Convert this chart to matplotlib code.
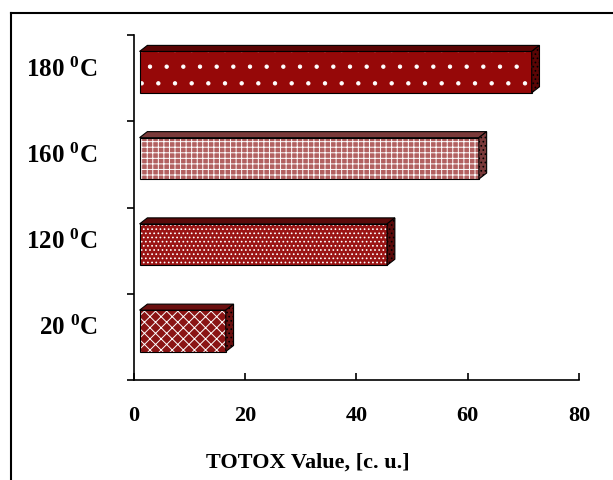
import matplotlib.pyplot as plt
from matplotlib.patches import Polygon
from matplotlib.lines import Line2D

# data
labels = ['20 $^{0}$C', '120 $^{0}$C', '160 $^{0}$C', '180 $^{0}$C']
values = [16.5, 45.5, 62, 71.5]
face_colors = ['#8a1414', '#9a1414', '#b26060', '#960808']
hatches = ['xxx', '....', '+++', '.']
top_colors = ['#6a1010', '#5a0a0a', '#7a3a3a', '#5a0505']

plt.rcParams['font.family'] = ['Liberation Serif', 'DejaVu Serif']
plt.rcParams['font.weight'] = 'bold'
plt.rcParams['mathtext.fontset'] = 'custom'
plt.rcParams['mathtext.rm'] = 'Liberation Serif:bold'
plt.rcParams['mathtext.it'] = 'Liberation Serif:bold'
plt.rcParams['hatch.linewidth'] = 0.7

fig = plt.figure(figsize=(6.13, 4.8), dpi=100)
ax = fig.add_axes([0.2186, 0.2083, 0.7259, 0.7187])

h = 0.48      # bar thickness (category units)
shift = 0.07  # bars sit a little above the category centre
dx, dy = 1.4, 0.07  # 3-D depth offset
x0 = 1.0

for i, v in enumerate(values):
    yc = i + shift
    lo, hi = yc - h / 2, yc + h / 2
    # front face with white pattern
    ax.barh(yc, v - x0, left=x0, height=h, color=face_colors[i],
            hatch=hatches[i], edgecolor='white', linewidth=0, zorder=2)
    ax.barh(yc, v - x0, left=x0, height=h, facecolor='none',
            edgecolor='black', linewidth=0.8, zorder=3)
    # top face
    top = Polygon([(x0, hi), (v, hi), (v + dx, hi + dy), (x0 + dx, hi + dy)],
                  closed=True, facecolor=top_colors[i], edgecolor='black',
                  linewidth=0.8, zorder=3)
    ax.add_patch(top)
    # right side face
    side = Polygon([(v, lo), (v, hi), (v + dx, hi + dy), (v + dx, lo + dy)],
                   closed=True, facecolor=top_colors[i], edgecolor='black',
                   linewidth=0.8, hatch='....', zorder=3)
    ax.add_patch(side)

ax.set_xlim(0, 80)
ax.set_ylim(-0.5, 3.5)
ax.set_xticks([0, 20, 40, 60, 80])
ax.set_xticklabels(['0', '20', '40', '60', '80'], fontsize=16)
ax.tick_params(axis='x', direction='in', length=5, width=1.2, pad=19)

ax.set_yticks([-0.5, 0.5, 1.5, 2.5, 3.5])
ax.set_yticklabels([])
ax.tick_params(axis='y', direction='out', length=5, width=1.2)
for i, lab in enumerate(labels):
    ax.text(-6.5, i + 0.1, lab, ha='right', va='center', fontsize=18,
            fontweight='bold', transform=ax.transData, clip_on=False)

for s in ['top', 'right']:
    ax.spines[s].set_visible(False)
for s in ['left', 'bottom']:
    ax.spines[s].set_linewidth(1.2)

ax.set_xlabel('TOTOX Value, [c. u.]', fontsize=16, fontweight='bold')
ax.xaxis.set_label_coords(0.39, -0.21)

# outer frame (left and top edges)
fig.add_artist(Line2D([11 / 613, 11 / 613], [0, 1 - 13 / 480],
                      color='black', linewidth=1.5, transform=fig.transFigure))
fig.add_artist(Line2D([11 / 613, 1], [1 - 13 / 480, 1 - 13 / 480],
                      color='black', linewidth=1.5, transform=fig.transFigure))

fig.savefig('out.png', dpi=100)
